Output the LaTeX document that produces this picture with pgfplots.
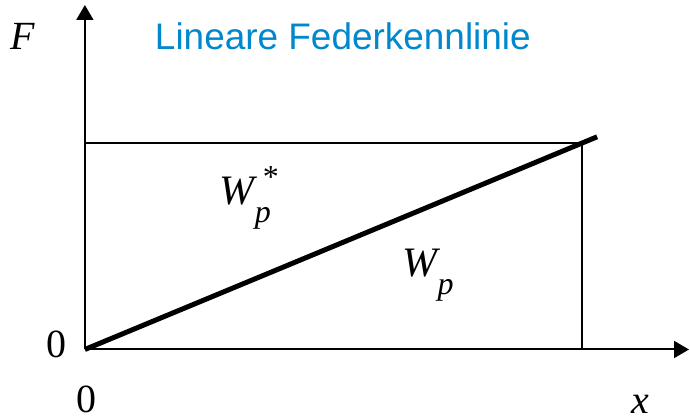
\documentclass[border=0pt]{standalone}
\usepackage{pgfplots}
\pgfplotsset{compat=1.18}
\usepackage{fontspec}
\setmainfont{Liberation Serif}
\newfontfamily\titlefont{Liberation Sans}
\usetikzlibrary{arrows.meta}
\definecolor{titleblue}{RGB}{0,136,204}
\begin{document}
\begin{tikzpicture}
\begin{axis}[
  x=1pt, y=1pt,
  xmin=0, xmax=605, ymin=0, ymax=345,
  axis lines=left,
  ticks=none,
  axis line style={line width=2pt, -{Triangle[width=17pt,length=15pt]}},
  clip=false,
]
\path (axis cs:-85,-70) rectangle (axis cs:605,350);
\addplot[black, line width=1.8pt, no marks] coordinates {(0,207) (498,207) (498,0)};
\addplot[black, line width=5pt, no marks] coordinates {(0,0) (513,213)};
\node[anchor=base west, inner sep=0pt, font=\fontsize{40}{44}\selectfont\itshape] at (axis cs:-75,300) {F};
\node[anchor=base west, inner sep=0pt, text=titleblue, font=\fontsize{37}{40}\selectfont\titlefont] at (axis cs:70,300) {Lineare Federkennlinie};
\node[anchor=base west, inner sep=0pt, font=\fontsize{40}{44}\selectfont] at (axis cs:-39,-8) {0};
\node[anchor=base west, inner sep=0pt, font=\fontsize{40}{44}\selectfont] at (axis cs:-9,-63) {0};
\node[anchor=base west, inner sep=0pt, font=\fontsize{40}{44}\selectfont\itshape] at (axis cs:547,-64) {x};
\node[anchor=base west, inner sep=0pt, font=\fontsize{42}{46}\selectfont\itshape] at (axis cs:135,145) {W\raisebox{-18pt}{\fontsize{32}{34}\selectfont p}\hspace{-8pt}\raisebox{17pt}{\fontsize{32}{34}\selectfont\upshape *}};
\node[anchor=base west, inner sep=0pt, font=\fontsize{42}{46}\selectfont\itshape] at (axis cs:318,73) {W\raisebox{-18pt}{\fontsize{32}{34}\selectfont p}};
\end{axis}
\end{tikzpicture}
\end{document}
